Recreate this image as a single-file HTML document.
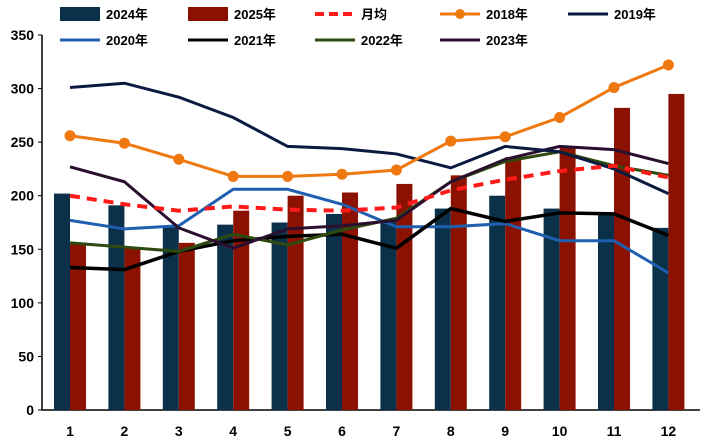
<!DOCTYPE html>
<html><head><meta charset="utf-8"><style>
body{margin:0;background:#fff;}
svg{display:block;font-family:"Liberation Sans","Noto Sans CJK SC",sans-serif;}
</style></head><body>
<svg id="c" width="704" height="448"></svg>
<script>
const categories=["1","2","3","4","5","6","7","8","9","10","11","12"];
const yTicks=[0,50,100,150,200,250,300,350];
const s2024=[202,191,171,173,175,183,176,188,200,188,182,170];
const s2025=[156,152,156,186,200,203,211,219,236,245,282,295];
const avg=[200,192,186,190,187,186,189,205,215,223,228,217];
const s2018=[256,249,234,218,218,220,224,251,255,273,301,322];
const s2019=[301,305,292,273,246,244,239,226,246,241,225,202];
const s2020=[177,169,172,206,206,192,171,171,174,158,158,128];
const s2021=[133,131,148,158,162,164,151,188,176,184,183,163];
const s2022=[156,152,148,164,154,168,179,213,232,241,228,219];
const s2023=[227,213,170,151,169,172,177,213,234,246,243,230];
const NS="http://www.w3.org/2000/svg";
const svg=document.getElementById('c');
const x0=70,dx=54.4,yb=410,yt=35;
const X=i=>x0+i*dx;
const Y=v=>yb-(v/350)*(yb-yt);
function mk(t,a,p){const e=document.createElementNS(NS,t);for(const k in a)e.setAttribute(k,a[k]);(p||svg).appendChild(e);return e;}
// axes
const ax=mk('line',{x1:42,y1:yt,x2:42,y2:yb,stroke:'#000','stroke-width':1.5});


const bx=mk('line',{x1:42,y1:yb,x2:700,y2:yb,stroke:'#000','stroke-width':1.5});


yTicks.forEach(v=>{
 mk('line',{x1:38,y1:Y(v),x2:42,y2:Y(v),stroke:'#000'});
 const t=mk('text',{x:34,y:Y(v)+5,'text-anchor':'end','font-size':14,'font-weight':'bold'});t.textContent=v;
 
 
});
categories.forEach((c,i)=>{
 const t=mk('text',{x:X(i),y:436,'text-anchor':'middle','font-size':14,'font-weight':'bold'});t.textContent=c;
 
 
});
// bars
s2024.forEach((v,i)=>{const r=mk('rect',{x:X(i)-16,y:Y(v),width:16,height:yb-Y(v),fill:'#0b3049'});
 
 });
s2025.forEach((v,i)=>{const r=mk('rect',{x:X(i),y:Y(v),width:16,height:yb-Y(v),fill:'#8b1200'});
 
 });
function line(d,col,w,name,dash,marker){
 const p=mk('polyline',{points:d.map((v,i)=>X(i)+','+Y(v)).join(' '),fill:'none',stroke:col,'stroke-width':w,'stroke-dasharray':dash||'none'});
 
 
 if(marker)d.forEach((v,i)=>{const c=mk('circle',{cx:X(i),cy:Y(v),r:5.5,fill:col});
  
  });
}
line(s2020,'#1f5fb0',3,'line-2020');
line(s2021,'#000',3.5,'line-2021');
line(s2022,'#2d4a10',3,'line-2022');
line(s2023,'#2a0f2e',3,'line-2023');
line(s2019,'#0a1a40',3,'line-2019');
line(avg,'#ff1a1a',4,'line-monthly-avg','10 7');
line(s2018,'#f07810',3,'line-2018',null,true);
// legend
const leg=[
 ['2024年','bar','#0b3049',60,14],['2025年','bar','#8b1200',188,14],['月均','dash','#ff1a1a',315,14],['2018年','marker','#f07810',440,14],['2019年','line','#0a1a40',568,14],
 ['2020年','line','#1f5fb0',60,40],['2021年','line','#000',188,40],['2022年','line','#2d4a10',315,40],['2023年','line','#2a0f2e',440,40]];
leg.forEach(([n,k,c,x,y])=>{
 const g=mk('g',{});
 
 
 if(k==='bar')mk('rect',{x:x,y:y-7,width:40,height:14,fill:c},g);
 else mk('line',{x1:x,y1:y,x2:x+40,y2:y,stroke:c,'stroke-width':k==='dash'?4:3,'stroke-dasharray':k==='dash'?'9 5':'none'},g);
 if(k==='marker')mk('circle',{cx:x+20,cy:y,r:5,fill:c},g);
 const t=mk('text',{x:x+46,y:y+5,'font-size':13,'font-weight':'bold'},g);t.textContent=n;
});
</script>
</body></html>
